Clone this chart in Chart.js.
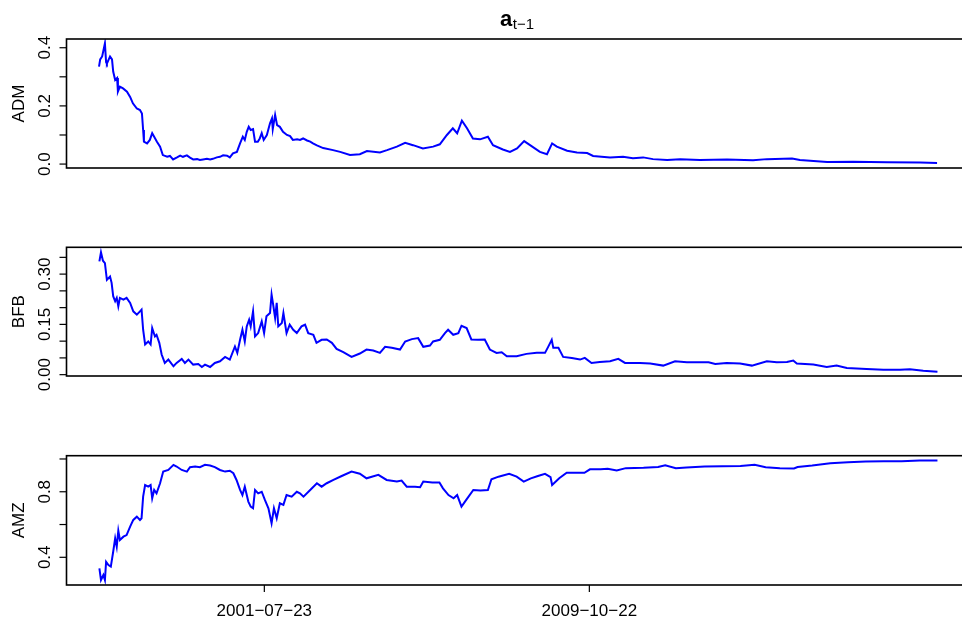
<!DOCTYPE html>
<html>
<head>
<meta charset="utf-8">
<script src="https://cdn.jsdelivr.net/npm/chart.js@4/dist/chart.umd.min.js"></script>
<style>
  html, body { margin: 0; padding: 0; background: #fff; }
  #wrap { position: relative; width: 962px; height: 621px; overflow: hidden; background: #fff; }
  #wrap canvas { position: absolute; left: 0; }
</style>
</head>
<body>
<div id="wrap">
  <canvas id="c1" width="980" height="200" style="top:0px"></canvas>
  <canvas id="c2" width="980" height="200" style="top:200px"></canvas>
  <canvas id="c3" width="980" height="221" style="top:400px"></canvas>
</div>
<script>
// time in decimal years
const admTime = [1997.36,1997.39,1997.44,1997.51,1997.54,1997.56,1997.64,1997.69,1997.72,1997.77,1997.82,1997.84,1997.89,1997.97,1998.07,1998.15,1998.22,1998.32,1998.40,1998.45,1998.48,1998.50,1998.58,1998.65,1998.71,1998.76,1998.83,1998.91,1998.98,1999.09,1999.16,1999.24,1999.34,1999.42,1999.49,1999.59,1999.67,1999.75,1999.85,1999.92,2000.00,2000.10,2000.18,2000.25,2000.35,2000.43,2000.51,2000.61,2000.68,2000.76,2000.86,2000.94,2001.01,2001.06,2001.11,2001.16,2001.21,2001.27,2001.32,2001.39,2001.44,2001.49,2001.54,2001.62,2001.70,2001.75,2001.77,2001.83,2001.88,2001.95,2002.03,2002.13,2002.21,2002.28,2002.39,2002.46,2002.54,2002.64,2002.72,2002.79,2002.89,2003.05,2003.30,2003.48,2003.73,2003.98,2004.16,2004.49,2004.67,2004.92,2005.13,2005.33,2005.58,2005.84,2006.01,2006.19,2006.34,2006.45,2006.57,2006.70,2006.85,2007.03,2007.23,2007.36,2007.61,2007.79,2007.97,2008.15,2008.30,2008.55,2008.73,2008.86,2008.98,2009.24,2009.49,2009.75,2009.90,2010.33,2010.66,2010.91,2011.17,2011.42,2011.78,2012.11,2012.61,2013.30,2013.96,2014.31,2014.95,2015.15,2015.84,2016.50,2017.36,2018.20,2018.63];
const admValues = [0.335,0.36,0.37,0.415,0.35,0.345,0.37,0.36,0.318,0.289,0.296,0.249,0.266,0.26,0.249,0.231,0.209,0.191,0.186,0.174,0.117,0.077,0.071,0.083,0.106,0.094,0.077,0.06,0.031,0.025,0.028,0.016,0.023,0.029,0.025,0.03,0.022,0.016,0.017,0.014,0.016,0.018,0.016,0.018,0.023,0.025,0.03,0.029,0.023,0.037,0.042,0.071,0.094,0.083,0.111,0.128,0.117,0.12,0.077,0.077,0.088,0.106,0.083,0.1,0.14,0.157,0.12,0.169,0.134,0.128,0.111,0.1,0.096,0.083,0.085,0.083,0.088,0.081,0.077,0.071,0.064,0.055,0.048,0.042,0.031,0.034,0.045,0.04,0.048,0.06,0.073,0.065,0.054,0.06,0.068,0.1,0.123,0.106,0.149,0.123,0.088,0.085,0.094,0.065,0.05,0.042,0.054,0.079,0.065,0.042,0.034,0.071,0.06,0.046,0.04,0.038,0.028,0.023,0.025,0.02,0.023,0.017,0.014,0.017,0.014,0.016,0.013,0.017,0.019,0.014,0.007,0.008,0.006,0.005,0.004];

const bfbTime = [1997.37,1997.41,1997.46,1997.51,1997.56,1997.64,1997.68,1997.72,1997.77,1997.81,1997.85,1997.89,1997.98,1998.06,1998.15,1998.23,1998.32,1998.40,1998.44,1998.48,1998.53,1998.61,1998.67,1998.71,1998.78,1998.82,1998.89,1998.95,1999.03,1999.12,1999.25,1999.33,1999.46,1999.54,1999.63,1999.75,1999.88,1999.97,2000.05,2000.18,2000.30,2000.43,2000.56,2000.68,2000.81,2000.87,2000.94,2001.00,2001.06,2001.11,2001.17,2001.21,2001.27,2001.32,2001.40,2001.49,2001.55,2001.61,2001.70,2001.74,2001.78,2001.83,2001.87,2001.91,2002.00,2002.04,2002.12,2002.20,2002.29,2002.38,2002.50,2002.59,2002.67,2002.80,2002.88,2003.01,2003.14,2003.27,2003.39,2003.56,2003.77,2003.98,2004.15,2004.32,2004.49,2004.62,2004.79,2005.00,2005.13,2005.30,2005.46,2005.59,2005.76,2005.84,2006.01,2006.14,2006.22,2006.35,2006.48,2006.56,2006.69,2006.81,2006.98,2007.15,2007.28,2007.45,2007.58,2007.71,2007.96,2008.21,2008.47,2008.68,2008.76,2008.85,2008.89,2009.02,2009.14,2009.36,2009.57,2009.69,2009.86,2010.07,2010.33,2010.54,2010.71,2011.09,2011.35,2011.68,2011.98,2012.28,2012.53,2012.83,2013.00,2013.29,2013.63,2013.93,2014.31,2014.56,2014.82,2014.98,2015.07,2015.49,2015.83,2016.08,2016.34,2016.84,2017.27,2017.69,2017.94,2018.28,2018.64];
const bfbValues = [0.338,0.365,0.34,0.333,0.283,0.293,0.274,0.234,0.219,0.229,0.204,0.229,0.224,0.229,0.214,0.189,0.179,0.189,0.194,0.134,0.09,0.099,0.09,0.139,0.114,0.119,0.095,0.06,0.035,0.045,0.025,0.035,0.047,0.035,0.045,0.03,0.032,0.023,0.03,0.023,0.035,0.04,0.053,0.045,0.084,0.065,0.104,0.134,0.099,0.144,0.164,0.144,0.189,0.114,0.124,0.159,0.124,0.174,0.184,0.239,0.209,0.169,0.214,0.144,0.154,0.184,0.124,0.149,0.134,0.124,0.144,0.149,0.124,0.119,0.095,0.104,0.105,0.095,0.077,0.067,0.053,0.063,0.075,0.072,0.065,0.083,0.08,0.075,0.099,0.106,0.109,0.083,0.087,0.099,0.104,0.124,0.134,0.119,0.124,0.146,0.139,0.105,0.104,0.105,0.075,0.065,0.067,0.055,0.055,0.062,0.065,0.065,0.083,0.104,0.08,0.08,0.053,0.05,0.045,0.05,0.035,0.038,0.04,0.047,0.035,0.035,0.033,0.027,0.04,0.037,0.037,0.037,0.032,0.035,0.033,0.027,0.04,0.037,0.038,0.042,0.033,0.03,0.023,0.027,0.02,0.017,0.015,0.015,0.016,0.012,0.009];

const amzTime = [1997.37,1997.41,1997.47,1997.51,1997.54,1997.60,1997.66,1997.72,1997.77,1997.81,1997.85,1997.89,1997.98,1998.06,1998.15,1998.23,1998.32,1998.40,1998.44,1998.48,1998.53,1998.61,1998.67,1998.71,1998.76,1998.82,1998.91,1998.99,1999.12,1999.25,1999.33,1999.46,1999.59,1999.67,1999.80,1999.92,2000.05,2000.18,2000.30,2000.43,2000.56,2000.68,2000.77,2000.85,2000.94,2001.00,2001.06,2001.15,2001.21,2001.27,2001.32,2001.40,2001.49,2001.57,2001.66,2001.74,2001.80,2001.87,2001.95,2002.04,2002.12,2002.25,2002.38,2002.46,2002.55,2002.72,2002.89,2003.01,2003.14,2003.31,2003.52,2003.77,2003.98,2004.15,2004.45,2004.66,2004.92,2005.04,2005.17,2005.38,2005.51,2005.59,2005.82,2006.00,2006.09,2006.23,2006.36,2006.45,2006.56,2006.68,2006.86,2007.04,2007.23,2007.32,2007.50,2007.77,2007.96,2008.14,2008.32,2008.50,2008.68,2008.82,2008.86,2009.04,2009.23,2009.45,2009.68,2009.82,2010.09,2010.27,2010.50,2010.73,2011.18,2011.55,2011.73,2012.00,2012.27,2012.73,2013.18,2013.64,2014.00,2014.28,2014.64,2015.00,2015.09,2015.46,2015.92,2016.37,2016.82,2017.28,2017.73,2018.19,2018.64];
const amzValues = [0.333,0.261,0.292,0.261,0.373,0.353,0.343,0.434,0.516,0.465,0.562,0.506,0.526,0.536,0.587,0.628,0.648,0.628,0.638,0.77,0.841,0.831,0.841,0.76,0.811,0.79,0.852,0.923,0.933,0.964,0.954,0.933,0.923,0.95,0.954,0.95,0.964,0.96,0.95,0.933,0.923,0.928,0.913,0.872,0.811,0.78,0.831,0.74,0.709,0.699,0.811,0.79,0.8,0.75,0.699,0.608,0.699,0.638,0.73,0.72,0.78,0.77,0.8,0.791,0.77,0.811,0.852,0.831,0.852,0.872,0.896,0.923,0.91,0.882,0.903,0.872,0.862,0.868,0.831,0.831,0.828,0.862,0.856,0.856,0.821,0.78,0.76,0.78,0.709,0.75,0.811,0.808,0.811,0.876,0.892,0.909,0.892,0.862,0.882,0.896,0.909,0.889,0.841,0.882,0.916,0.916,0.916,0.937,0.937,0.94,0.93,0.944,0.946,0.951,0.962,0.944,0.948,0.954,0.955,0.957,0.964,0.95,0.944,0.942,0.951,0.96,0.974,0.98,0.984,0.986,0.986,0.99,0.99];

// axis ticks and labels (R style: some ticks unlabeled)
const admTicks = [0, 0.1, 0.2, 0.3, 0.4];
const admTickLabels = ["0.0", "", "0.2", "", "0.4"];
const bfbTicks = [0, 0.05, 0.10, 0.15, 0.20, 0.25, 0.30, 0.35];
const bfbTickLabels = ["0.00", "", "", "0.15", "", "", "0.30", ""];
const amzTicks = [0.4, 0.6, 0.8, 1.0];
const amzTickLabels = ["0.4", "", "0.8", ""];
const dateTicks = [2001.556, 2009.805];
const dateLabels = ["2001\u221207\u221223", "2009\u221210\u221222"];

const xMin = 1996.535, xMax = 2019.466;
const FONT = '"Liberation Sans", Arial, Helvetica, sans-serif';

// draws box, ticks, labels like base R graphics
const rAxesPlugin = {
  id: "rAxes",
  afterDraw(chart, args, opts) {
    const ctx = chart.ctx;
    const a = chart.chartArea;
    const ys = chart.scales.y;
    ctx.save();
    ctx.strokeStyle = "#000";
    ctx.lineWidth = 1.6;
    ctx.strokeRect(a.left, a.top, a.right - a.left, a.bottom - a.top);

    // y ticks
    ctx.lineWidth = 1.2;
    ctx.fillStyle = "#000";
    ctx.font = "17px " + FONT;
    opts.ticks.forEach((v, i) => {
      const p = ys.getPixelForValue(v);
      ctx.beginPath();
      ctx.moveTo(a.left - 7, p);
      ctx.lineTo(a.left, p);
      ctx.stroke();
      if (opts.tickLabels[i]) {
        ctx.save();
        ctx.translate(a.left - 16.5, p);
        ctx.rotate(-Math.PI / 2);
        ctx.textAlign = "center";
        ctx.textBaseline = "alphabetic";
        ctx.fillText(opts.tickLabels[i], 0, 0);
        ctx.restore();
      }
    });

    // y title
    ctx.save();
    ctx.translate(23.5, (a.top + a.bottom) / 2);
    ctx.rotate(-Math.PI / 2);
    ctx.textAlign = "center";
    ctx.textBaseline = "alphabetic";
    ctx.fillText(opts.label, 0, 0);
    ctx.restore();

    // x axis on the last panel
    if (opts.xAxis) {
      const xs = chart.scales.x;
      dateTicks.forEach((v, i) => {
        const p = xs.getPixelForValue(v);
        ctx.beginPath();
        ctx.moveTo(p, a.bottom);
        ctx.lineTo(p, a.bottom + 7);
        ctx.stroke();
        ctx.textAlign = "center";
        ctx.fillText(dateLabels[i], p, a.bottom + 31);
      });
    }

    // main title: bold a with subscript t-1
    if (opts.title) {
      const cx = (a.left + a.right) / 2 - 1.5;
      ctx.font = "bold 22px " + FONT;
      const w1 = ctx.measureText("a").width;
      ctx.font = "15px " + FONT;
      const w2 = ctx.measureText("t\u22121").width;
      const x0 = cx - (w1 + w2) / 2;
      ctx.textAlign = "left";
      ctx.font = "bold 22px " + FONT;
      ctx.fillText("a", x0, 25.5);
      ctx.font = "15px " + FONT;
      ctx.fillText("t\u22121", x0 + w1 + 0.5, 28.5);
    }
    ctx.restore();
  }
};

function makePanel(id, times, values, yMin, yMax, pad, axisOpts) {
  const points = times.map((t, i) => ({ x: t, y: values[i] }));
  return new Chart(document.getElementById(id), {
    type: "scatter",
    data: {
      datasets: [{
        data: points,
        showLine: true,
        borderColor: "#0000ff",
        borderWidth: 2,
        pointRadius: 0,
        tension: 0,
        fill: false
      }]
    },
    options: {
      responsive: false,
      animation: false,
      devicePixelRatio: 1,
      layout: { padding: pad },
      plugins: {
        legend: { display: false },
        tooltip: { enabled: false },
        rAxes: axisOpts
      },
      scales: {
        x: { type: "linear", min: xMin, max: xMax, display: false },
        y: { type: "linear", min: yMin, max: yMax, display: false }
      }
    },
    plugins: [rAxesPlugin]
  });
}

makePanel("c1", admTime, admValues, -0.0135, 0.430,
  { left: 66.5, right: 10, top: 39, bottom: 32 },
  { ticks: admTicks, tickLabels: admTickLabels, label: "ADM", title: true });
makePanel("c2", bfbTime, bfbValues, -0.004, 0.380,
  { left: 66.5, right: 10, top: 47.3, bottom: 24 },
  { ticks: bfbTicks, tickLabels: bfbTickLabels, label: "BFB" });
makePanel("c3", amzTime, amzValues, 0.231, 1.020,
  { left: 66.5, right: 10, top: 55.7, bottom: 36 },
  { ticks: amzTicks, tickLabels: amzTickLabels, label: "AMZ", xAxis: true });
</script>
</body>
</html>
